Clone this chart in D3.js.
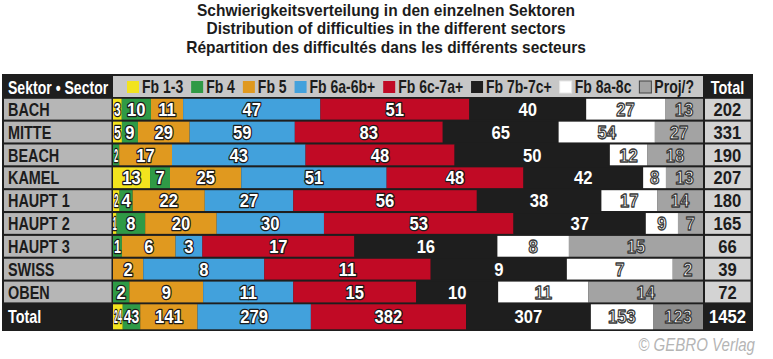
<!DOCTYPE html>
<html><head><meta charset="utf-8">
<script src="https://cdn.jsdelivr.net/npm/d3@7"></script>
<style>
body{margin:0;background:#fff}
text{font-family:"Liberation Sans",Arimo,Arial,sans-serif}
</style></head>
<body><svg id="c" width="773" height="359"></svg>
<script>
// ---------- data ----------
const titles = [
  "Schwierigkeitsverteilung in den einzelnen Sektoren",
  "Distribution of difficulties in the different sectors",
  "Répartition des difficultés dans les différents secteurs"
];
const sectors = ["BACH","MITTE","BEACH","KAMEL","HAUPT 1","HAUPT 2","HAUPT 3","SWISS","OBEN"];
const grades = ["Fb 1-3","Fb 4","Fb 5","Fb 6a-6b+","Fb 6c-7a+","Fb 7b-7c+","Fb 8a-8c","Proj/?"];
const fb13 = [3,5,0,13,2,1,0,0,0];
const fb4  = [10,9,2,7,4,8,1,0,2];
const fb5  = [11,29,17,25,22,20,6,2,9];
const fb6a = [47,59,43,51,27,30,3,8,11];
const fb6c = [51,83,48,48,56,53,17,11,15];
const fb7b = [40,65,50,42,38,37,16,9,10];
const fb8a = [27,54,12,8,17,9,8,7,11];
const proj = [13,27,18,13,14,7,15,2,14];
const headerLabel = "Sektor • Sector";
const totalLabel = "Total";
const credit = "© GEBRO Verlag";

// ---------- style ----------
const series = [fb13,fb4,fb5,fb6a,fb6c,fb7b,fb8a,proj];
const colors = ["#f2e31e","#2f9a46","#e0991f","#42a1dc","#c10a25","#1e1e1e","#ffffff","#a3a3a3"];
const DARK = "#1e1e1e", INK = "#1c1c1c";

const svg = d3.select("#c");

// condensed text helper: horizontal squeeze via transform
function ctext(parent, x, y, str, o){
  o = o || {};
  const t = parent.append("text")
    .attr("transform",`translate(${x},${y}) scale(${o.sx||1},1)`)
    .attr("dy", o.dy==null ? "0.36em" : o.dy)
    .attr("text-anchor", o.anchor||"start")
    .attr("font-size", o.size||18)
    .attr("font-weight", o.weight||"bold")
    .attr("fill", o.fill||INK)
    .text(str);
  if(o.italic) t.attr("font-style","italic");
  if(o.stroke){
    t.attr("stroke",o.stroke).attr("stroke-width",o.sw||2).attr("stroke-linejoin","round");
    if(o.under) t.attr("paint-order","stroke");
  }
  return t;
}

// title
titles.forEach((s,i)=> ctext(svg, 386, 10+i*18.5, s, {anchor:"middle", size:16.5, sx:0.94}));

// table frame
const X0 = 113, X1 = 703;
svg.append("rect").attr("x",2).attr("y",74).attr("width",751).attr("height",257).attr("fill",DARK);

// header
svg.append("rect").attr("x",X0).attr("y",76).attr("width",X1-X0).attr("height",21).attr("fill","#c7c7c7");
ctext(svg, 8, 87, headerLabel, {size:18.5, sx:0.76, fill:"#fff"});
ctext(svg, 727.5, 87, totalLabel, {size:18.5, sx:0.78, fill:"#fff", anchor:"middle"});

// legend
const LSX = 0.8;
const lgItems = grades.map((g,i)=>{
  const gg = svg.append("g");
  const rect = gg.append("rect").attr("width",12).attr("height",12).attr("y",81)
    .attr("fill",colors[i])
    .attr("stroke", i===7 ? "#444" : (i===6 ? "#e6e6e6" : "none")).attr("stroke-width",1);
  const txt = ctext(gg, 0, 87, g, {size:17.5, sx:LSX});
  return {rect, txt, w: txt.node().getComputedTextLength()*LSX};
});
{
  const itemW = lgItems.map(d=>12+3+d.w);
  const start = 127, end = 694;
  const gap = (end-start-d3.sum(itemW))/(grades.length-1);
  let cx = start;
  lgItems.forEach((d,i)=>{
    d.rect.attr("x",cx);
    d.txt.attr("transform",`translate(${cx+15},87) scale(${LSX},1)`);
    cx += itemW[i]+gap;
  });
}

// rows
const rows = sectors.map((s,i)=>({name:s, vals:series.map(a=>a[i]), total:false}));
const totalRow = {name:totalLabel, vals:series.map(a=>d3.sum(a)), total:true};

const y = d3.scaleBand().domain(sectors).range([98.8, 302.4]).paddingInner(0.09).paddingOuter(0);
const rowY = r => r.total ? 304.3 : y(r.name);
const rowH = r => r.total ? 25 : y.bandwidth();

const NSX = 0.9, NSIZE = 18.5;
rows.concat([totalRow]).forEach(r=>{
  const g = svg.append("g");
  const top = rowY(r), h = rowH(r), cy = top + h/2;
  const sum = d3.sum(r.vals);
  const x = d3.scaleLinear().domain([0,sum]).range([X0,X1]);
  if(!r.total){
    g.append("rect").attr("x",4).attr("y",top).attr("width",107.5).attr("height",h).attr("fill","#b6b6b6");
    g.append("rect").attr("x",705).attr("y",top).attr("width",45.5).attr("height",h).attr("fill","#d3d3d3");
  }
  ctext(g, 8, cy, r.name, {size:18.5, sx:0.78, fill:r.total?"#fff":INK});
  ctext(g, 727.5, cy, sum, {size:NSIZE, sx:NSX, anchor:"middle", fill:r.total?"#fff":INK});
  // segments
  const cum = d3.cumsum(r.vals);
  const segs = r.vals.map((v,i)=>({v, i, a:cum[i]-v, b:cum[i]})).filter(d=>d.v>0);
  g.selectAll("rect.seg").data(segs).join("rect").attr("class","seg")
    .attr("x",d=>x(d.a)).attr("y",top).attr("width",d=>x(d.b)-x(d.a)).attr("height",h)
    .attr("fill",d=> (r.total && d.i===7) ? "#8d8d8d" : colors[d.i]);
  segs.forEach(d=>{
    const w = x(d.b)-x(d.a);
    const opts = {size:NSIZE, sx:NSX, anchor:"middle", fill:"#fff"};
    if(d.i<5){ opts.stroke="#1a1a1a"; opts.sw=2.6; opts.under=true; }
    else if(d.i>=6){ opts.stroke="#3a3a3a"; opts.sw=1.3; }
    const cx = (x(d.a)+x(d.b))/2;
    const t = ctext(g, cx, cy, d.v, opts);
    const tw = t.node().getComputedTextLength()*NSX;
    if(tw > w-2){
      const s = NSX*Math.max(w-2,4)/tw;
      t.attr("transform",`translate(${cx},${cy}) scale(${s},1)`);
    }
  });
});

// credit
ctext(svg, 755, 345, credit, {anchor:"end", size:17.5, sx:0.86, weight:"normal", italic:true, fill:"#b5b5b5"});
</script></body></html>
